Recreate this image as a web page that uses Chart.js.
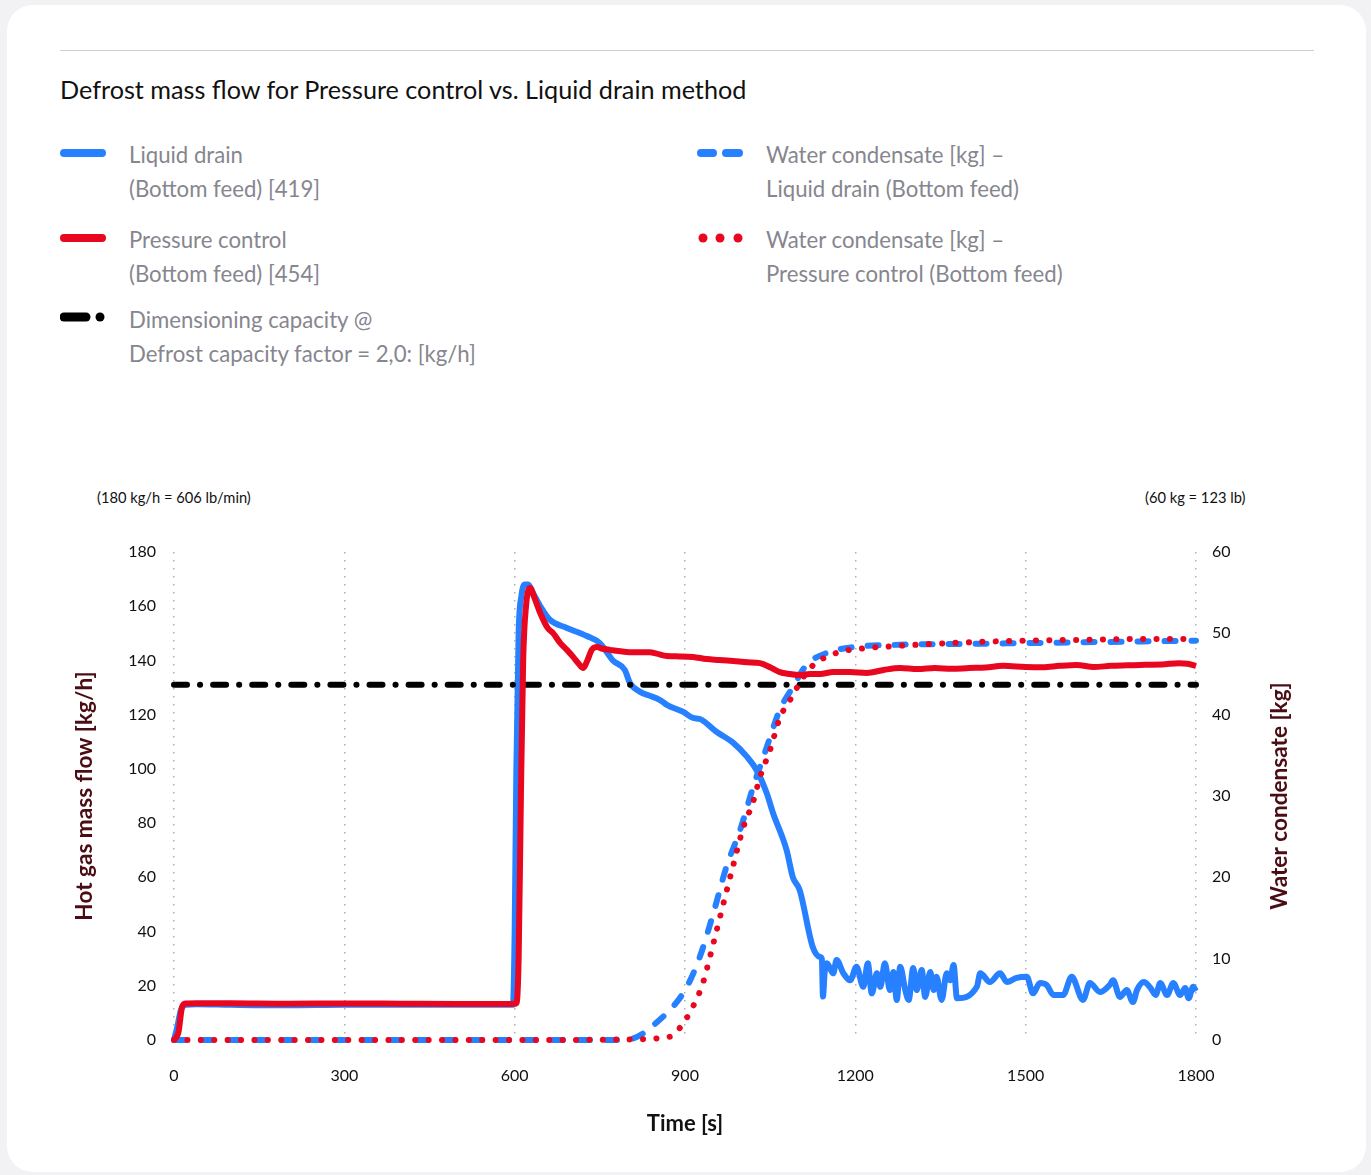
<!DOCTYPE html>
<html>
<head>
<meta charset="utf-8">
<script src="https://cdn.jsdelivr.net/npm/chart.js@4.4.1/dist/chart.umd.min.js"></script>
<style>
  body { margin: 0; background: #f2f2f4; font-family: Lato, "Noto Sans", sans-serif; }
  #card { position: absolute; left: 7px; top: 5px; width: 1359px; height: 1167px; background: #fff; border-radius: 26px; }
  #rule { position: absolute; left: 60px; top: 50px; width: 1254px; height: 1px; background: #cfcfd3; }
  #title { position: absolute; left: 60px; top: 74px; font-size: 25.2px; color: #111; white-space: nowrap; }
  .lg { position: absolute; font-size: 22.2px; line-height: 34px; color: #86868f; white-space: nowrap; }
  .sym { position: absolute; }
  .note { position: absolute; top: 488px; font-size: 14.7px; color: #111; white-space: nowrap; }
  #wrap { position: absolute; left: 60px; top: 480px; width: 1250px; height: 680px; }
</style>
</head>
<body>
<div id="card"></div>
<div id="rule"></div>
<div id="title">Defrost mass flow for Pressure control vs. Liquid drain method</div>

<svg class="sym" style="left:60px;top:147px" width="46" height="12"><line x1="4" y1="6" x2="42" y2="6" stroke="#2680ff" stroke-width="8" stroke-linecap="round"/></svg>
<div class="lg" style="left:129px;top:138px">Liquid drain<br>(Bottom feed) [419]</div>

<svg class="sym" style="left:60px;top:232px" width="46" height="12"><line x1="4" y1="6" x2="42" y2="6" stroke="#e8071f" stroke-width="8" stroke-linecap="round"/></svg>
<div class="lg" style="left:129px;top:223px">Pressure control<br>(Bottom feed) [454]</div>

<svg class="sym" style="left:60px;top:311px" width="48" height="12"><line x1="4" y1="6" x2="26" y2="6" stroke="#000" stroke-width="9" stroke-linecap="round"/><circle cx="40" cy="6" r="4.5" fill="#000"/></svg>
<div class="lg" style="left:129px;top:303px">Dimensioning capacity @<br>Defrost capacity factor = 2,0: [kg/h]</div>

<svg class="sym" style="left:697px;top:147px" width="48" height="12"><line x1="4" y1="6" x2="16" y2="6" stroke="#2680ff" stroke-width="8" stroke-linecap="round"/><line x1="29" y1="6" x2="42" y2="6" stroke="#2680ff" stroke-width="8" stroke-linecap="round"/></svg>
<div class="lg" style="left:766px;top:138px">Water condensate [kg] –<br>Liquid drain (Bottom feed)</div>

<svg class="sym" style="left:697px;top:232px" width="48" height="12"><circle cx="6" cy="6" r="4.5" fill="#e8071f"/><circle cx="23" cy="6" r="4.5" fill="#e8071f"/><circle cx="41" cy="6" r="4.5" fill="#e8071f"/></svg>
<div class="lg" style="left:766px;top:223px">Water condensate [kg] –<br>Pressure control (Bottom feed)</div>

<div class="note" style="left:97px">(180 kg/h = 606 lb/min)</div>
<div class="note" style="left:1145px">(60 kg = 123 lb)</div>

<div id="wrap"><canvas id="myChart"></canvas></div>

<script>
// Liquid drain (bottom feed) hot gas mass flow [kg/h]
let ldTime = [
  0, 6, 12, 20, 40, 100, 200, 300, 400, 500,
  580, 597, 600, 603, 607, 612, 618, 624, 632, 645,
  662, 692, 727, 750, 773, 794, 803, 821, 838, 856,
  868, 897, 914, 926, 956, 985, 1009, 1026, 1044, 1055,
  1079, 1090, 1102, 1125, 1138, 1141, 1143, 1146, 1150, 1161,
  1167, 1179, 1191, 1202, 1214, 1222, 1229, 1238, 1244, 1252,
  1261, 1267, 1273, 1279, 1288, 1294, 1302, 1308, 1317, 1323,
  1332, 1338, 1343, 1352, 1361, 1367, 1373, 1379, 1414, 1420,
  1437, 1455, 1467, 1484, 1502, 1513, 1525, 1537, 1549, 1566,
  1581, 1601, 1613, 1631, 1648, 1654, 1666, 1678, 1689, 1696,
  1708, 1720, 1729, 1737, 1749, 1760, 1772, 1781, 1787, 1795,
  1800
];
let ldFlow = [
  0, 5, 11, 13, 13.2, 13, 12.8, 13, 13, 13,
  13, 13, 40, 100, 150, 164, 168, 168, 165, 160,
  155, 152, 149, 146.4, 140, 136.5, 131.7, 128.4, 127, 125.4,
  123.6, 121, 118.8, 118.4, 113.6, 109.6, 104.5, 99.6, 91, 83.7,
  70, 60, 55.3, 34.3, 30.6, 30, 16, 25, 28.3, 24.6,
  29.5, 24.6, 22, 27, 19.6, 28.3, 17.2, 24.6, 19.6, 28.3,
  18.4, 25.1, 14.8, 27, 18.4, 14.8, 26.6, 18.4, 25.8, 15.9,
  25.1, 18.4, 23.3, 14.8, 24.6, 22, 27.7, 15.4, 19.6, 24.6,
  21.4, 24.6, 21.4, 22.9, 23.3, 17.2, 21, 20.3, 16.6, 16.6,
  23.3, 14.8, 21, 17.7, 20.3, 22, 15.9, 18.4, 14, 18.4,
  21.4, 19.2, 16.6, 21, 16.6, 21, 16.6, 19.2, 15.4, 19.6,
  18
];

// Pressure control (bottom feed) hot gas mass flow [kg/h]
let pcTime = [
  0, 8, 14, 20, 40, 100, 200, 300, 400, 500,
  580, 603, 607, 611, 615, 620, 627, 635, 645, 658,
  668, 680, 692, 703, 712, 721, 728, 736, 745, 755,
  768, 790, 809, 838, 850, 868, 890, 914, 938, 960,
  985, 1010, 1032, 1050, 1067, 1085, 1102, 1120, 1138, 1161,
  1190, 1220, 1250, 1279, 1310, 1340, 1370, 1400, 1430, 1460,
  1500, 1530, 1560, 1590, 1620, 1650, 1680, 1710, 1740, 1770,
  1785, 1800
];
let pcFlow = [
  0, 3, 12, 13.5, 13.6, 13.6, 13.4, 13.5, 13.4, 13.3,
  13.3, 13.5, 30, 90, 140, 160, 166.7, 163, 157.5, 152,
  150, 146.5, 143.9, 141.3, 139, 137.2, 140, 144, 145, 144.3,
  143.9, 143.3, 143, 143, 142.5, 141.6, 141.5, 141.3, 140.5, 140.2,
  139.8, 139.3, 139, 137.5, 135.7, 135, 134.6, 135, 135, 135.7,
  135.7, 135.4, 136.5, 137.2, 136.8, 137.2, 136.9, 137.2, 137.4, 138,
  137.6, 137.5, 138, 138.3, 137.6, 138, 138.2, 138.4, 138.5, 139,
  138.8, 138
];

// Dimensioning capacity @ defrost capacity factor 2,0 [kg/h]
let dimTime = [0, 1800];
let dimFlow = [131, 131];

// Water condensate [kg] - liquid drain
let ldWaterTime = [
  0, 600, 790, 809, 826, 844, 862, 879, 903, 926,
  950, 973, 997, 1020, 1044, 1067, 1090, 1114, 1150, 1196,
  1279, 1400, 1500, 1600, 1700, 1800
];
let ldWater = [
  0, 0, 0, 0.2, 0.8, 1.8, 2.9, 4.1, 6.5, 10.2,
  15.6, 21.3, 25.8, 31.1, 36, 40.6, 43.4, 46.1, 47.6, 48.3,
  48.6, 48.7, 48.8, 48.9, 49, 49.1
];

// Water condensate [kg] - pressure control
let pcWaterTime = [
  0, 600, 826, 850, 873, 891, 914, 932, 950, 967,
  985, 1003, 1020, 1032, 1050, 1067, 1085, 1097, 1120, 1167,
  1208, 1261, 1400, 1500, 1600, 1700, 1800
];
let pcWater = [
  0, 0, 0.1, 0.2, 0.4, 1.5, 4.1, 7.1, 11.9, 16.6,
  21.5, 26.2, 29.3, 32.3, 35.7, 39.6, 41.8, 43.3, 45.7, 47.6,
  48.1, 48.4, 48.9, 49.1, 49.2, 49.3, 49.3
];

let xTicks = [0, 300, 600, 900, 1200, 1500, 1800];

function toPoints(aX, aY) {
  return aX.map(function (x, i) { return {x: x, y: aY[i]}; });
}

const BLUE = '#2680ff';
const RED = '#e8071f';
const TITLE_COLOR = '#4a0d14';

// right axis title reads bottom-to-top, so draw it by hand
let rightTitle = {
  id: 'rightTitle',
  afterDraw(chart) {
    let c = chart.ctx;
    let y1 = chart.scales.y1;
    c.save();
    c.translate(1220, (y1.top + y1.bottom) / 2);
    c.rotate(-Math.PI / 2);
    c.font = 'bold 22.6px Lato';
    c.fillStyle = TITLE_COLOR;
    c.textAlign = 'center';
    c.textBaseline = 'middle';
    c.fillText('Water condensate [kg]', 0, 0);
    c.restore();
  }
};

var ctx = document.getElementById('myChart').getContext('2d');
var myChart = new Chart(ctx, {
  type: 'line',
  data: {
    datasets: [{
      label: 'Pressure control (Bottom feed) [454]',
      data: toPoints(pcTime, pcFlow),
      borderColor: RED,
      borderWidth: 6,
      yAxisID: 'y',
      order: 1
    }, {
      label: 'Water condensate [kg] – Pressure control (Bottom feed)',
      data: toPoints(pcWaterTime, pcWater),
      borderColor: RED,
      borderWidth: 6,
      borderDash: [0.1, 13.3],
      borderCapStyle: 'round',
      yAxisID: 'y1',
      order: 2
    }, {
      label: 'Water condensate [kg] – Liquid drain (Bottom feed)',
      data: toPoints(ldWaterTime, ldWater),
      borderColor: BLUE,
      borderWidth: 6,
      borderDash: [11, 16],
      borderCapStyle: 'round',
      yAxisID: 'y1',
      order: 3
    }, {
      label: 'Dimensioning capacity @ Defrost capacity factor = 2,0: [kg/h]',
      data: toPoints(dimTime, dimFlow),
      borderColor: '#000',
      borderWidth: 6,
      borderDash: [13, 13, 0.1, 13],
      borderCapStyle: 'round',
      yAxisID: 'y',
      order: 4
    }, {
      label: 'Liquid drain (Bottom feed) [419]',
      data: toPoints(ldTime, ldFlow),
      borderColor: BLUE,
      borderWidth: 6,
      yAxisID: 'y',
      order: 5
    }]
  },
  options: {
    responsive: true,
    maintainAspectRatio: false,
    animation: false,
    layout: { padding: { top: 72, left: 0, right: 0, bottom: 0 } },
    elements: {
      point: { radius: 0 },
      line: { cubicInterpolationMode: 'monotone', borderJoinStyle: 'round', fill: false }
    },
    datasets: { line: { clip: 8 } },
    plugins: {
      legend: { display: false },
      tooltip: { enabled: false }
    },
    scales: {
      x: {
        type: 'linear',
        min: 0,
        max: 1800,
        afterBuildTicks: function (scale) {
          scale.ticks = xTicks.map(function (v) { return {value: v}; });
        },
        afterFit: function (scale) { scale.height = 120; },
        grid: { color: '#b0b0b0', lineWidth: 1.5, drawTicks: false },
        border: { display: false, dash: [1.5, 6.5] },
        ticks: {
          color: '#111',
          font: { family: 'Lato', size: 16 },
          padding: 26,
          maxRotation: 0,
          callback: function (value) { return String(value); }
        },
        title: {
          display: true,
          text: 'Time [s]',
          color: '#111',
          font: { family: 'Lato', size: 22, weight: 'bold' },
          padding: { top: 0, bottom: 23 }
        }
      },
      y: {
        position: 'left',
        min: 0,
        max: 180,
        afterFit: function (scale) { scale.width = 114; },
        grid: { display: false, drawTicks: false },
        border: { display: false },
        ticks: { stepSize: 20, color: '#111', font: { family: 'Lato', size: 16 }, padding: 18 },
        title: {
          display: true,
          text: 'Hot gas mass flow [kg/h]',
          color: TITLE_COLOR,
          font: { family: 'Lato', size: 22.6, weight: 'bold' },
          padding: { top: 11, bottom: 0 }
        }
      },
      y1: {
        position: 'right',
        min: 0,
        max: 60,
        afterFit: function (scale) { scale.width = 114; },
        grid: { display: false, drawTicks: false },
        border: { display: false },
        ticks: { stepSize: 10, color: '#111', font: { family: 'Lato', size: 16 }, padding: 16 }
      }
    }
  },
  plugins: [rightTitle]
});
</script>
</body>
</html>
